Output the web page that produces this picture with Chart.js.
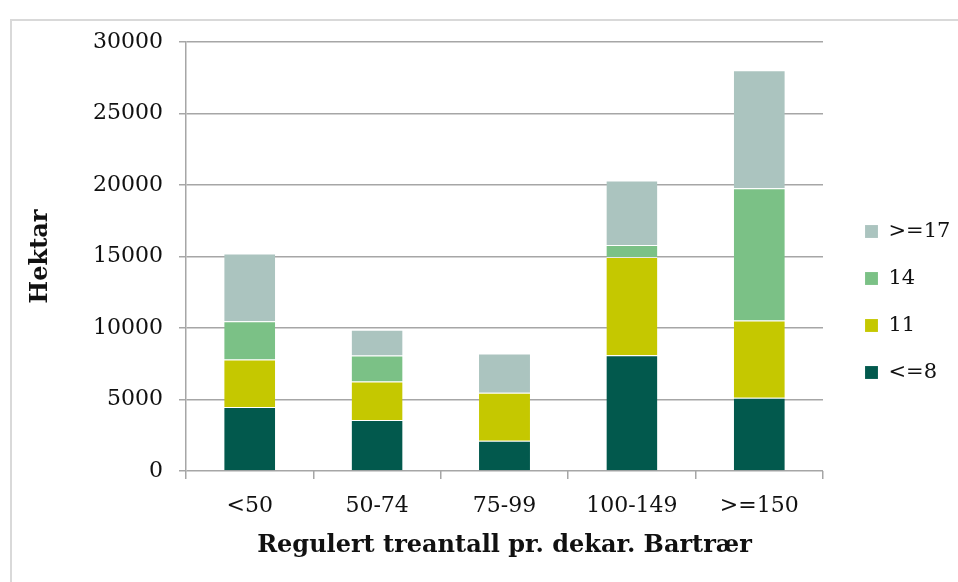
<!DOCTYPE html>
<html>
<head>
<meta charset="utf-8">
<script src="https://cdn.jsdelivr.net/npm/chart.js@4"></script>
<style>
  html, body { margin: 0; padding: 0; background: #fff; }
  #wrap { position: relative; width: 958px; height: 582px; overflow: hidden; }
  #frame { position: absolute; left: 10px; top: 19px; width: 960px; height: 600px; border: 2px solid #d9d9d9; box-sizing: border-box; }
  canvas { position: absolute; left: 0; top: 0; }
</style>
</head>
<body>
<div id="wrap">
  <div id="frame"></div>
  <canvas id="chart" width="958" height="582"></canvas>
</div>
<script>
const categories = ['<50', '50-74', '75-99', '100-149', '>=150'];
const seriesLe8 = [4470, 3560, 2120, 8100, 5120];
const series11 = [3330, 2700, 3350, 6860, 5400];
const series14 = [2680, 1820, 0, 840, 9260];
const seriesGe17 = [4730, 1790, 2750, 4520, 8240];
const yTicks = [0, 5000, 10000, 15000, 20000, 25000, 30000];

const FONT = "'DejaVu Serif', 'Liberation Serif', serif";

const ctx = document.getElementById('chart').getContext('2d');
new Chart(ctx, {
    type: 'bar',
    data: {
        labels: categories,
        datasets: [
            { label: '<=8', data: seriesLe8, backgroundColor: '#02594d' },
            { label: '11', data: series11, backgroundColor: '#c5c800' },
            { label: '14', data: series14, backgroundColor: '#7bc186' },
            { label: '>=17', data: seriesGe17, backgroundColor: '#abc4bf' }
        ].map(d => Object.assign(d, {
            barPercentage: 0.4,
            categoryPercentage: 1,
            borderColor: 'rgba(255,255,255,0.5)',
            borderWidth: { top: 1 },
            borderSkipped: 'bottom'
        }))
    },
    options: {
        responsive: false,
        animation: false,
        layout: { padding: { top: 42, left: 0, right: 0, bottom: 0 } },
        plugins: {
            tooltip: { enabled: false },
            legend: {
                position: 'right',
                align: 'start',
                reverse: true,
                maxWidth: 119,
                title: { display: true, text: ' ', font: { size: 10 }, padding: { top: 141, bottom: 0 } },
                labels: {
                    boxWidth: 13,
                    boxHeight: 13,
                    padding: 26,
                    color: '#111',
                    font: { family: FONT, size: 21 }
                }
            }
        },
        scales: {
            x: {
                stacked: true,
                grid: { offset: true, drawOnChartArea: false, drawTicks: true, tickLength: 8, color: '#a6a6a6', lineWidth: 1.5 },
                border: { display: false },
                ticks: { color: '#111', font: { family: FONT, size: 22 }, padding: 14, maxRotation: 0 },
                title: {
                    display: true,
                    text: 'Regulert treantall pr. dekar. Bartrær',
                    color: '#111',
                    font: { family: FONT, size: 24, weight: 'bold' },
                    padding: { top: 4, bottom: 22 }
                },
                afterFit: s => { s.height = 111; }
            },
            y: {
                stacked: true,
                min: 0,
                max: 30000,
                afterBuildTicks: s => { s.ticks = yTicks.map(v => ({ value: v })); },
                grid: { color: '#a6a6a6', lineWidth: 1.5, tickLength: 7 },
                border: { color: '#a6a6a6', width: 1.5 },
                ticks: { color: '#111', font: { family: FONT, size: 22 }, padding: 16, callback: v => String(v) },
                title: {
                    display: true,
                    text: 'Hektar',
                    color: '#111',
                    font: { family: FONT, size: 24, weight: 'bold' },
                    padding: { top: 26, bottom: 4 }
                },
                afterFit: s => { s.width = 186; }
            },
            gap: {
                position: 'right',
                display: true,
                grid: { display: false },
                border: { display: false },
                ticks: { display: false },
                afterFit: s => { s.width = 16; }
            }
        }
    }
});
</script>
</body>
</html>
